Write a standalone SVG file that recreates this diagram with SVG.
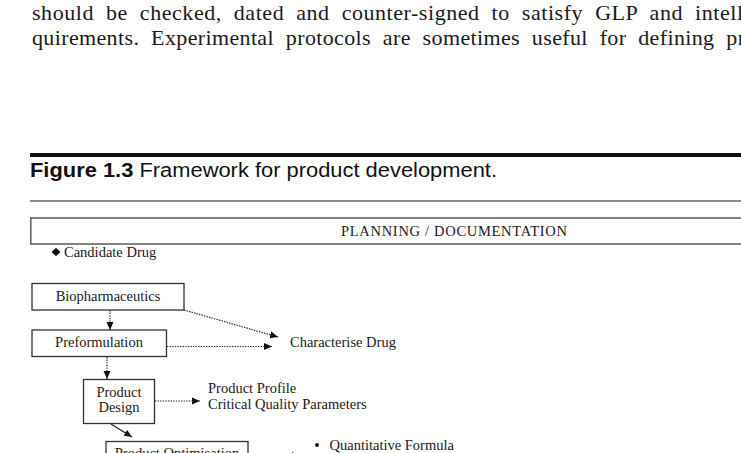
<svg xmlns="http://www.w3.org/2000/svg" width="741" height="453" viewBox="0 0 741 453">
  <style>
    .body { font-family: "Liberation Serif", "Times New Roman", serif; font-size: 22px; fill: #1a1a1a; word-spacing: 6px; }
    .cap { font-family: "Liberation Sans", Arial, sans-serif; font-size: 19.5px; fill: #111; }
    .lbl { font-family: "Liberation Serif", "Times New Roman", serif; font-size: 14.5px; fill: #1a1a1a; }
    .box { fill: #fff; stroke: #333; stroke-width: 1.3; }
    .frame { fill: #fff; stroke: #666; stroke-width: 1.6; }
    .dot { fill: none; stroke: #222; stroke-width: 1.2; stroke-dasharray: 1.4 1.2; }
    .solid { fill: none; stroke: #222; stroke-width: 1.4; }
  </style>
  <defs>
    <marker id="head" markerWidth="9" markerHeight="8" refX="8" refY="4" orient="auto" markerUnits="userSpaceOnUse">
      <path d="M0,0.5 L8,4 L0,7.5 Z" fill="#111"/>
    </marker>
  </defs>

  <rect width="741" height="453" fill="#fff"/>

  <!-- running text above the figure -->
  <text class="body" x="32" y="20" textLength="711" lengthAdjust="spacing">should be checked, dated and counter-signed to satisfy GLP and intell</text>
  <text class="body" x="32" y="44.5" textLength="713" lengthAdjust="spacing">quirements. Experimental protocols are sometimes useful for defining pr</text>

  <!-- figure header -->
  <rect x="30" y="153" width="711" height="4" fill="#111"/>
  <text class="cap" x="30" y="177" textLength="467" lengthAdjust="spacingAndGlyphs"><tspan font-weight="bold">Figure 1.3</tspan> Framework for product development.</text>
  <rect x="30" y="200" width="711" height="2" fill="#8c8c8c"/>

  <!-- planning band -->
  <g id="planning">
    <rect class="frame" x="30.8" y="218" width="720" height="26"/>
    <text class="lbl" x="341" y="236" textLength="226" lengthAdjust="spacing">PLANNING / DOCUMENTATION</text>
  </g>

  <g id="candidate">
    <path d="M56,247.8 L60.5,252 L56,256.2 L51.5,252 Z" fill="#111"/>
    <text class="lbl" x="64" y="257">Candidate Drug</text>
  </g>

  <g id="biopharmaceutics">
    <rect class="box" x="32" y="283.5" width="152" height="26.5"/>
    <text class="lbl" x="108" y="300.5" text-anchor="middle">Biopharmaceutics</text>
  </g>

  <g id="preformulation">
    <rect class="box" x="32" y="330" width="134.5" height="26.5"/>
    <text class="lbl" x="99" y="347" text-anchor="middle">Preformulation</text>
  </g>

  <g id="characterise">
    <text class="lbl" x="290" y="347">Characterise Drug</text>
  </g>

  <g id="product-design">
    <rect class="box" x="83.5" y="379.5" width="71" height="44"/>
    <text class="lbl" x="119" y="396.5" text-anchor="middle">Product</text>
    <text class="lbl" x="119" y="411.5" text-anchor="middle">Design</text>
  </g>

  <g id="product-profile">
    <text class="lbl" x="208" y="392.5">Product Profile</text>
    <text class="lbl" x="208" y="409">Critical Quality Parameters</text>
  </g>

  <g id="product-optimisation">
    <rect class="box" x="106" y="441.5" width="142" height="30"/>
    <text class="lbl" x="177" y="458" text-anchor="middle">Product Optimisation</text>
  </g>

  <g id="formula">
    <circle cx="317" cy="445" r="2" fill="#111"/>
    <text class="lbl" x="329.5" y="449.5">Quantitative Formula</text>
  </g>

  <!-- connectors -->
  <g id="connectors">
    <line class="dot" x1="110" y1="310" x2="110" y2="330" marker-end="url(#head)"/>
    <line class="dot" x1="184" y1="310" x2="278" y2="337" marker-end="url(#head)"/>
    <line class="dot" x1="167" y1="346.5" x2="272" y2="346.5" marker-end="url(#head)"/>
    <line class="dot" x1="107" y1="357" x2="107" y2="379" marker-end="url(#head)"/>
    <line class="dot" x1="155" y1="401" x2="200" y2="401" marker-end="url(#head)"/>
    <line class="solid" x1="111" y1="424" x2="132" y2="437" marker-end="url(#head)"/>
    <line class="dot" x1="249" y1="455.5" x2="300" y2="455.5" marker-end="url(#head)"/>
  </g>
</svg>
